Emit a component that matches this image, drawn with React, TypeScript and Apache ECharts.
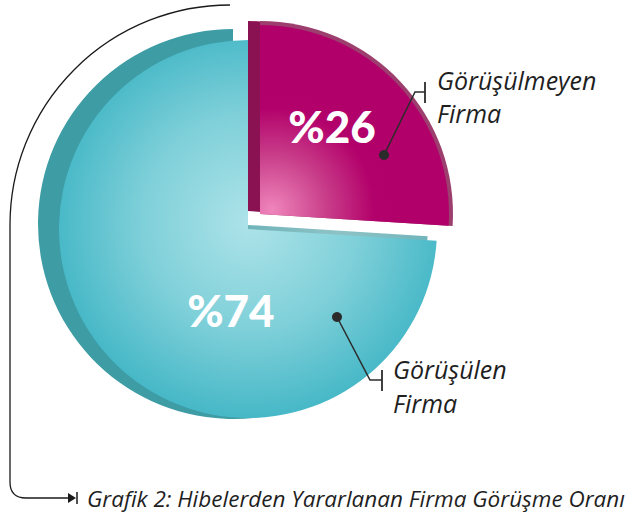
import React, { useEffect, useRef } from "react";
import * as echarts from "echarts";

const categories = ["Görüşülmeyen Firma", "Görüşülen Firma"];
const values = [26, 74];
const calloutLines = [["Görüşülmeyen", "Firma"], ["Görüşülen", "Firma"]];
const caption = "Grafik 2: Hibelerden Yararlanan Firma Görüşme Oranı";

const T = "rgba(0,0,0,0)";

function pieSeries(
  center: number[],
  radius: number,
  colors: any[],
  z: number,
  withLabel: boolean,
  labelShift?: number[][]
) {
  return {
    type: "pie",
    center,
    radius,
    startAngle: 90,
    clockwise: true,
    silent: true,
    z,
    avoidLabelOverlap: false,
    emphasis: { disabled: true },
    itemStyle: { borderWidth: 0 },
    label: withLabel
      ? {
          show: true,
          position: "inside",
          formatter: "%{c}",
          color: "#ffffff",
          fontFamily: "Lato",
          fontWeight: 900,
          fontSize: 44,
        }
      : { show: false },
    labelLine: { show: false },
    labelLayout: labelShift
      ? (p: any) => ({ dx: labelShift[p.dataIndex][0], dy: labelShift[p.dataIndex][1] })
      : undefined,
    data: categories.map((name, i) => ({
      name,
      value: values[i],
      itemStyle: { color: colors[i] },
      label: { show: withLabel && colors[i] !== T },
    })),
  };
}

export default function App() {
  const ref = useRef<HTMLDivElement>(null);
  useEffect(() => {
    if (!ref.current) return;
    const chart = echarts.init(ref.current, null, { renderer: "svg" });

    const tealFront = {
      type: "radial", x: 250, y: 222, r: 195, global: true,
      colorStops: [
        { offset: 0, color: "#aee3e9" },
        { offset: 0.55, color: "#7fd0d9" },
        { offset: 1, color: "#47b8c7" },
      ],
    };
    const tealBack = {
      type: "radial", x: 340, y: 228, r: 125, global: true,
      colorStops: [
        { offset: 0, color: "#8fc3c6" },
        { offset: 0.75, color: "#6fb4ba" },
        { offset: 1, color: "#3e9ca4" },
      ],
    };
    const magFront = {
      type: "radial", x: 272, y: 210, r: 120, global: true,
      colorStops: [
        { offset: 0, color: "#ef85bc" },
        { offset: 0.45, color: "#c93f8a" },
        { offset: 0.85, color: "#b3016b" },
        { offset: 1, color: "#b1006a" },
      ],
    };

    const ink = "#2b2b2b";
    const textStyle = (text: string, x: number, y: number, size: number) => ({
      type: "text",
      x,
      y,
      style: {
        text,
        fill: "#1f1f1f",
        font: `italic 400 ${size}px "Open Sans"`,
        textVerticalAlign: "middle",
        verticalAlign: "middle",
      },
    });

    chart.setOption({
      animation: false,
      series: [
        pieSeries([233, 224], 195, [T, tealBack], 1, false),
        pieSeries([248, 229], 189, [T, tealFront], 2, true, [[0, 0], [54, 14]]),
        pieSeries([248, 211], 190, ["#8a1252", T], 3, false),
        pieSeries([260, 214], 193, ["#9c3f6e", T], 4, false),
        pieSeries([260, 214], 189, [magFront, T], 5, true, [[1, -21], [0, 0]]),
      ],
      graphic: [
        // bracket
        {
          type: "arc",
          shape: { cx: 230, cy: 225, r: 220, startAngle: Math.PI, endAngle: Math.PI * 1.5, clockwise: true },
          style: { stroke: "#1a1a1a", lineWidth: 1.3, fill: "none" },
          z: 10,
        },
        {
          type: "polyline",
          shape: { points: [[10, 225], [10, 482]] },
          style: { stroke: "#1a1a1a", lineWidth: 1.3, fill: "none" },
          z: 10,
        },
        {
          type: "bezierCurve",
          shape: { x1: 10, y1: 482, cpx1: 10, cpy1: 498, x2: 26, y2: 498 },
          style: { stroke: "#1a1a1a", lineWidth: 1.3, fill: "none" },
          z: 10,
        },
        {
          type: "line",
          shape: { x1: 26, y1: 498, x2: 70, y2: 498 },
          style: { stroke: "#1a1a1a", lineWidth: 1.3 },
          z: 10,
        },
        {
          type: "polygon",
          shape: { points: [[68, 493], [76, 498], [68, 503]] },
          style: { fill: "#1a1a1a" },
          z: 10,
        },
        {
          type: "line",
          shape: { x1: 77, y1: 492, x2: 77, y2: 504 },
          style: { stroke: "#1a1a1a", lineWidth: 1.5 },
          z: 10,
        },
        textStyle(caption, 87, 498, 22.5),
        // callout magenta
        { type: "circle", shape: { cx: 384, cy: 155, r: 5 }, style: { fill: ink }, z: 10 },
        {
          type: "polyline",
          shape: { points: [[384, 155], [415, 92], [425, 92]] },
          style: { stroke: ink, lineWidth: 1.5, fill: "none" },
          z: 10,
        },
        { type: "line", shape: { x1: 425, y1: 82, x2: 425, y2: 103 }, style: { stroke: ink, lineWidth: 1.8 }, z: 10 },
        textStyle(calloutLines[0][0], 437, 80, 25),
        textStyle(calloutLines[0][1], 437, 113, 25),
        // callout teal
        { type: "circle", shape: { cx: 337, cy: 317, r: 5 }, style: { fill: ink }, z: 10 },
        {
          type: "polyline",
          shape: { points: [[337, 317], [370, 380], [382, 380]] },
          style: { stroke: ink, lineWidth: 1.5, fill: "none" },
          z: 10,
        },
        { type: "line", shape: { x1: 382, y1: 370, x2: 382, y2: 391 }, style: { stroke: ink, lineWidth: 1.8 }, z: 10 },
        textStyle(calloutLines[1][0], 393, 369, 25),
        textStyle(calloutLines[1][1], 393, 403, 25),
      ],
    });
    return () => chart.dispose();
  }, []);
  return (
    <div
      ref={ref}
      style={{ position: "absolute", left: 0, top: 0, width: 632, height: 516, background: "#ffffff" }}
    />
  );
}
